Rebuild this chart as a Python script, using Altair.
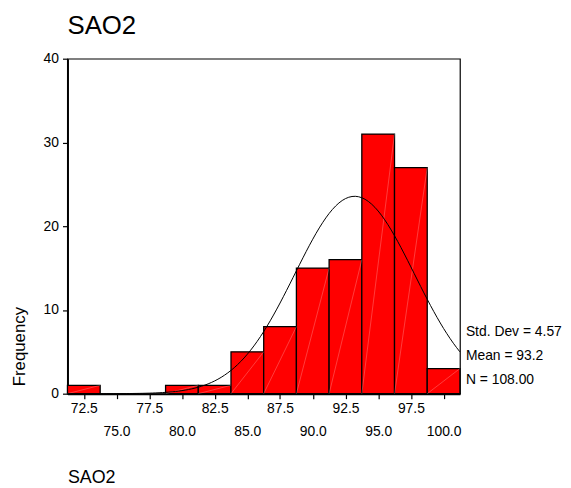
import altair as alt
import pandas as pd

# ---- data ----
centers = [72.5, 75.0, 77.5, 80.0, 82.5, 85.0, 87.5, 90.0, 92.5, 95.0, 97.5, 100.0]
counts = [1, 0, 0, 1, 1, 5, 8, 15, 16, 31, 27, 3]
x_tick_values = [72.5, 75.0, 77.5, 80.0, 82.5, 85.0, 87.5, 90.0, 92.5, 95.0, 97.5, 100.0]
y_tick_values = [0, 10, 20, 30, 40]
stat_lines = ["Std. Dev = 4.57", "Mean = 93.2", "N = 108.00"]
stat_mean = 93.2
stat_sd = 4.57
stat_n = 108
bin_width = 2.5
x_domain = [71.25, 101.25]
y_domain = [0, 40]

FONT = "Liberation Sans"
W, H = 396, 338

df = pd.DataFrame({"center": centers, "count": counts})

xscale = alt.Scale(domain=x_domain, nice=False, zero=False)
yscale = alt.Scale(domain=y_domain, nice=False, zero=True)

x_axis = alt.Axis(
    values=x_tick_values, format=".1f", labelOverlap=False, labelFlush=False,
    grid=False, tickSize=5, tickWidth=1.2, tickColor="black",
    domainColor="black", domainWidth=2,
    labelFont=FONT, labelFontSize=14, labelColor="black",
    labelPadding={"condition": {"test": "datum.value % 5 == 0", "value": 26}, "value": 3},
    title="SAO2", titleFont=FONT, titleFontSize=18, titleFontWeight="normal",
    titleColor="black", titleX=0, titleY=90, titleAlign="left",
    titleBaseline="alphabetic",
)
y_axis = alt.Axis(
    values=y_tick_values, grid=False, tickSize=5, tickWidth=1.2, tickColor="black",
    domainColor="black", domainWidth=2, labelFlush=False,
    labelFont=FONT, labelFontSize=14, labelColor="black", labelPadding=4,
    title="Frequency", titleFont=FONT, titleFontSize=17, titleFontWeight="normal",
    titleColor="black", titleX=-48, titleY=290, titleAngle=270,
    titleAlign="center", titleBaseline="middle",
)

half = bin_width / 2
base = (
    alt.Chart(df)
    .transform_filter("datum.count > 0")
    .transform_calculate(lo=f"datum.center - {half}", hi=f"datum.center + {half}", zero="0")
)

bars = base.mark_rect(color="#ff0000", stroke="black", strokeWidth=1.3).encode(
    x=alt.X("lo:Q", scale=xscale, axis=x_axis),
    x2="hi:Q",
    y=alt.Y("zero:Q", scale=yscale, axis=y_axis),
    y2="count:Q",
)

diag = base.mark_rule(color="white", opacity=0.3, strokeWidth=0.8).encode(
    x=alt.X("lo:Q", scale=xscale, axis=x_axis),
    x2="hi:Q",
    y=alt.Y("zero:Q", scale=yscale, axis=y_axis),
    y2="count:Q",
)

peak = stat_n * bin_width
curve = (
    alt.Chart(alt.sequence(x_domain[0], x_domain[1] + 0.01, 0.25, as_="lo"))
    .transform_calculate(
        zero=f"{peak}/({stat_sd}*sqrt(2*PI))*exp(-0.5*pow((datum.lo-{stat_mean})/{stat_sd},2))"
    )
    .mark_line(color="black", strokeWidth=1)
    .encode(
        x=alt.X("lo:Q", scale=xscale, axis=x_axis),
        y=alt.Y("zero:Q", scale=yscale, axis=y_axis),
    )
)

texts = []
for i, line in enumerate(stat_lines):
    texts.append(
        alt.Chart(pd.DataFrame({"t": [line]}))
        .mark_text(align="left", baseline="middle", font=FONT, fontSize=14, color="black")
        .encode(text="t:N", x=alt.value(W + 6), y=alt.value(276 + 24 * i))
    )

chart = (
    alt.layer(bars, diag, curve, *texts)
    .properties(
        width=W,
        height=H,
        title=alt.TitleParams(
            "SAO2", anchor="start", frame="group", font=FONT, fontSize=26,
            fontWeight="normal", color="black", baseline="alphabetic", offset=-8,
        ),
        autosize=alt.AutoSizeParams(type="none"),
        padding={"left": 60, "top": 49, "right": 104, "bottom": 92},
    )
    .configure_view(stroke="black", strokeWidth=1.2)
)

chart.save("out.html", embed_options={"renderer": "svg", "actions": False})
